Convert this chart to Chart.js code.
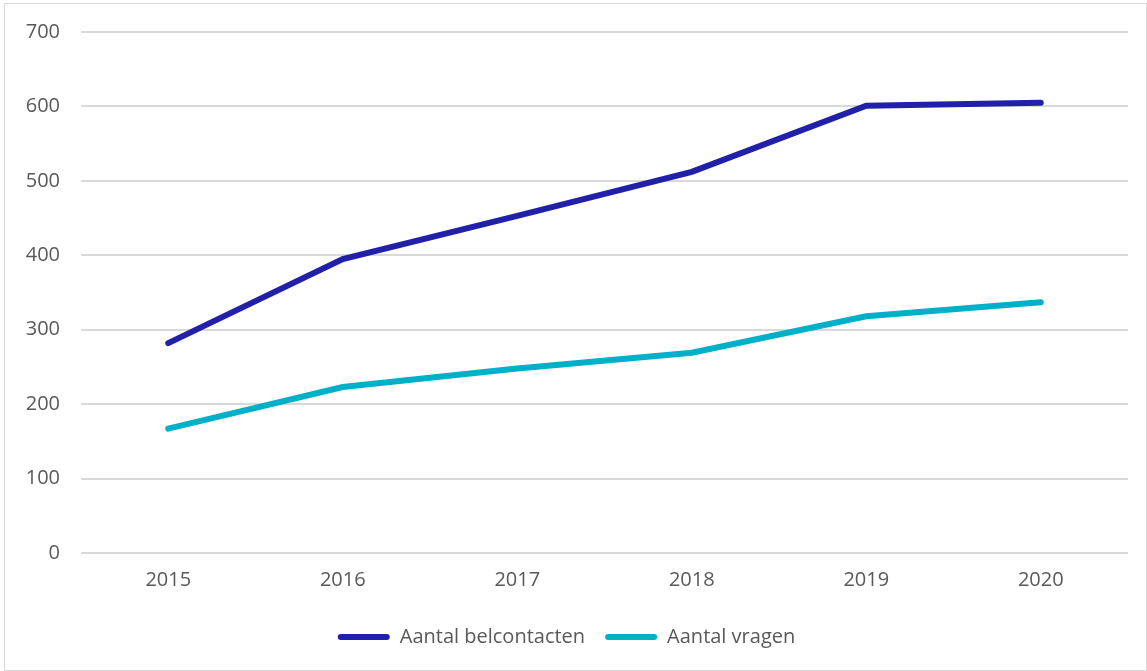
<!DOCTYPE html>
<html>
<head>
<meta charset="utf-8">
<script src="https://cdn.jsdelivr.net/npm/chart.js@4/dist/chart.umd.min.js"></script>
<style>
    body { margin: 0; background: #fff; }
    .wrap {
        position: absolute; left: 4px; top: 3px;
        width: 1141px; height: 666px;
        border: 1px solid #d9d9d9;
    }
</style>
</head>
<body>
<div class="wrap"><canvas id="lineChart"></canvas></div>
<script>
    // data
    const years = ['2015', '2016', '2017', '2018', '2019', '2020'];
    const belcontacten = [282, 395, 453, 512, 601, 605];
    const vragen = [167, 223, 248, 269, 318, 337];
    const yTicks = [0, 100, 200, 300, 400, 500, 600, 700];

    const textColor = '#595959';
    const fontFamily = "'Open Sans', sans-serif";

    const ctx = document.getElementById('lineChart').getContext('2d');
    new Chart(ctx, {
        type: 'line',
        data: {
            labels: years,
            datasets: [{
                label: 'Aantal belcontacten',
                data: belcontacten,
                borderColor: '#2020a8',
                backgroundColor: '#2020a8',
                borderWidth: 6,
                borderCapStyle: 'round',
                pointRadius: 0,
                fill: false
            }, {
                label: 'Aantal vragen',
                data: vragen,
                borderColor: '#00b0c8',
                backgroundColor: '#00b0c8',
                borderWidth: 6,
                borderCapStyle: 'round',
                pointRadius: 0,
                fill: false
            }]
        },
        options: {
            responsive: true,
            maintainAspectRatio: false,
            animation: false,
            layout: { padding: { top: 28, right: 18, left: 0, bottom: 13 } },
            plugins: {
                tooltip: { enabled: false },
                legend: {
                    position: 'bottom',
                    labels: {
                        color: textColor,
                        font: { family: fontFamily, size: 20 },
                        boxWidth: 52,
                        boxHeight: 6,
                        useBorderRadius: true,
                        borderRadius: 3,
                        padding: 20,
                        generateLabels: (chart) => {
                            const items = Chart.defaults.plugins.legend.labels.generateLabels(chart);
                            items.forEach(it => { it.lineWidth = 0; });
                            return items;
                        }
                    }
                }
            },
            scales: {
                x: {
                    offset: true,
                    grid: { display: false, drawTicks: false },
                    border: { display: false },
                    ticks: {
                        color: textColor,
                        font: { family: fontFamily, size: 20 },
                        padding: 15
                    }
                },
                y: {
                    min: 0,
                    max: 700,
                    afterBuildTicks: (scale) => {
                        scale.ticks = yTicks.map(v => ({ value: v }));
                    },
                    afterFit: (scale) => {
                        scale.width = 76;
                        scale.paddingTop = 0;
                    },
                    grid: { color: '#d9d9d9', lineWidth: 2, drawTicks: false },
                    border: { display: false },
                    ticks: {
                        color: textColor,
                        font: { family: fontFamily, size: 20 },
                        padding: 21
                    }
                }
            }
        }
    });
</script>
</body>
</html>
